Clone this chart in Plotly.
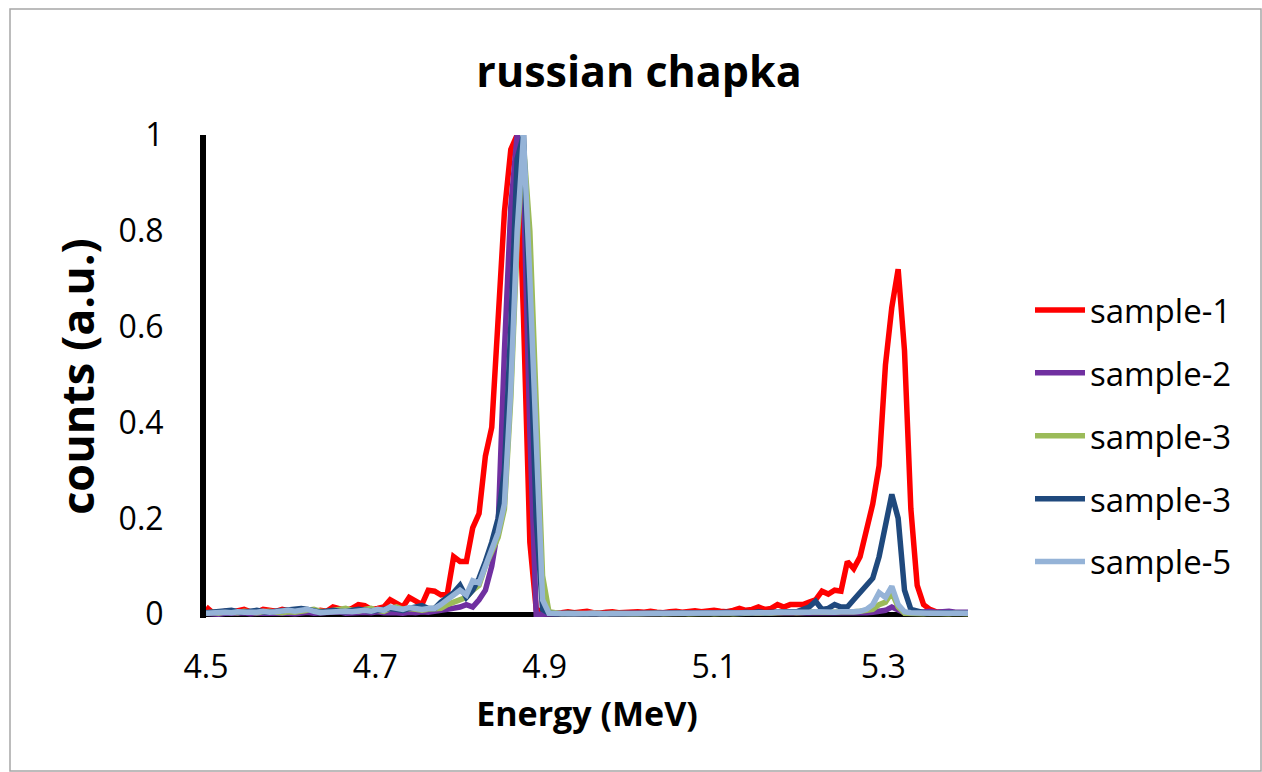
import numpy as np
import plotly.graph_objects as go

# energy channels (MeV), 121 channels from 4.5 to 5.4
energy = np.round(np.linspace(4.5, 5.4, 121), 4)

names = ["sample-1", "sample-2", "sample-3", "sample-3", "sample-5"]
colors = ["#FF0000", "#7030A0", "#9BBB59", "#1F497D", "#95B3D7"]

sample_1 = [0.015,0.004,0.002,0.006,0.004,0.008,0.01,0.005,0.004,0.01,0.007,0.006,0.01,0.006,0.004,0.008,0.006,0.005,0.008,0.006,0.015,0.01,0.008,0.012,0.02,0.018,0.01,0.012,0.015,0.03,0.022,0.015,0.035,0.028,0.02,0.05,
            0.048,0.04,0.042,0.12,0.11,0.11,0.18,0.21,0.33,0.39,0.62,0.84,0.97,1.0,0.62,0.15,0.01,0.005,
            0.004,0.002,0.003,0.005,0.003,0.004,0.006,0.003,0.002,0.004,0.005,0.003,0.004,0.003,0.005,0.004,0.006,0.004,0.003,0.005,0.006,0.004,0.005,0.007,0.005,0.006,0.008,0.006,0.005,0.008,0.012,0.008,0.01,0.015,0.01,0.012,0.02,0.015,0.02,
            0.02,0.02,0.025,0.03,0.048,0.042,0.05,0.048,0.11,0.095,0.12,0.17,0.23,0.31,0.52,0.64,0.72,0.55,0.22,0.06,0.02,0.01,0.005,0.004,0.003,0.003,0.002,0.002]

sample_2 = [0.002,0.001,0.0,0.002,0.001,0.002,0.003,0.001,0.002,0.002,0.003,0.002,0.004,0.002,0.001,0.003,0.004,0.002,0.003,0.002,0.003,0.005,0.002,0.003,0.002,0.004,0.003,0.005,0.003,0.004,0.003,0.002,0.004,0.003,0.005,0.004,
            0.005,0.008,0.01,0.012,0.015,0.02,0.015,0.03,0.05,0.1,0.18,0.55,0.85,1.0,0.9,0.38,0.0,0.0,
            0.001,0.002,0.001,0.002,0.001,0.001,0.002,0.001,0.002,0.001,0.002,0.001,0.001,0.002,0.001,0.002,0.001,0.002,0.001,0.002,0.001,0.002,0.001,0.001,0.002,0.001,0.002,0.001,0.002,0.002,0.001,0.002,0.003,0.002,0.003,0.002,0.003,0.002,0.003,
            0.002,0.003,0.002,0.003,0.002,0.003,0.002,0.003,0.002,0.003,0.002,0.003,0.004,0.005,0.008,0.015,0.01,0.003,0.002,0.003,0.004,0.006,0.004,0.005,0.006,0.004,0.005,0.004]

sample_3a = [0.003,0.004,0.002,0.005,0.004,0.003,0.006,0.004,0.003,0.005,0.006,0.004,0.003,0.005,0.004,0.006,0.008,0.01,0.006,0.005,0.008,0.01,0.012,0.008,0.006,0.01,0.012,0.008,0.006,0.012,0.015,0.01,0.012,0.01,0.008,0.01,
             0.01,0.012,0.02,0.025,0.03,0.035,0.05,0.06,0.1,0.13,0.16,0.22,0.45,0.78,0.98,0.8,0.45,0.08,
             0.005,0.002,0.001,0.002,0.001,0.002,0.001,0.002,0.001,0.001,0.002,0.001,0.002,0.001,0.001,0.002,0.001,0.002,0.001,0.002,0.001,0.002,0.001,0.002,0.001,0.002,0.001,0.002,0.002,0.001,0.002,0.003,0.002,0.003,0.002,0.003,0.004,0.003,0.004,
             0.003,0.004,0.003,0.005,0.004,0.003,0.004,0.005,0.004,0.005,0.006,0.008,0.01,0.02,0.025,0.045,0.015,0.002,0.001,0.002,0.001,0.002,0.001,0.002,0.001,0.002,0.001,0.001]

sample_3b = [0.003,0.004,0.005,0.006,0.008,0.005,0.004,0.006,0.008,0.005,0.004,0.006,0.008,0.01,0.012,0.012,0.01,0.008,0.004,0.006,0.008,0.006,0.005,0.008,0.01,0.008,0.006,0.008,0.01,0.012,0.01,0.008,0.012,0.015,0.018,0.012,
             0.012,0.025,0.035,0.045,0.06,0.035,0.05,0.075,0.11,0.15,0.2,0.3,0.6,0.95,1.0,0.6,0.2,0.01,
             0.002,0.001,0.002,0.001,0.002,0.001,0.001,0.002,0.001,0.002,0.001,0.002,0.001,0.002,0.001,0.001,0.002,0.001,0.002,0.001,0.002,0.001,0.002,0.003,0.002,0.003,0.002,0.003,0.004,0.003,0.002,0.004,0.003,0.005,0.003,0.004,0.005,0.004,0.005,
             0.005,0.01,0.015,0.027,0.01,0.012,0.02,0.015,0.015,0.03,0.045,0.06,0.075,0.12,0.18,0.25,0.2,0.05,0.01,0.005,0.003,0.002,0.003,0.002,0.003,0.002,0.003,0.002]

sample_5 = [0.002,0.003,0.002,0.004,0.003,0.005,0.004,0.003,0.004,0.006,0.004,0.005,0.006,0.008,0.006,0.008,0.01,0.006,0.003,0.004,0.005,0.006,0.006,0.005,0.007,0.008,0.006,0.01,0.008,0.015,0.012,0.01,0.014,0.012,0.01,0.012,
            0.012,0.02,0.03,0.04,0.05,0.04,0.07,0.065,0.1,0.13,0.17,0.23,0.47,0.8,1.0,0.7,0.33,0.03,
            0.002,0.001,0.002,0.001,0.001,0.002,0.001,0.002,0.001,0.001,0.002,0.001,0.002,0.001,0.002,0.001,0.001,0.002,0.001,0.002,0.001,0.002,0.001,0.002,0.002,0.001,0.002,0.001,0.002,0.002,0.003,0.002,0.003,0.002,0.003,0.003,0.004,0.003,0.004,
            0.004,0.003,0.004,0.005,0.004,0.003,0.004,0.005,0.004,0.005,0.006,0.01,0.02,0.045,0.035,0.058,0.02,0.005,0.003,0.002,0.003,0.002,0.002,0.003,0.002,0.002,0.003,0.002]

series = [sample_1, sample_2, sample_3a, sample_3b, sample_5]

x_ticks = [4.5, 4.7, 4.9, 5.1, 5.3]
x_ticktext = ["4.5", "4.7", "4.9", "5.1", "5.3"]
y_ticks = [0, 0.2, 0.4, 0.6, 0.8, 1.0]
y_ticktext = ["0", "0.2", "0.4", "0.6", "0.8", "1"]

FONT = "Open Sans"
W, H = 1262, 772
ML, MR, MT, MB = 206, 294, 135, 154

fig = go.Figure()
for i, (nm, col, ys) in enumerate(zip(names, colors, series)):
    fig.add_trace(go.Scatter(
        x=energy, y=ys, mode="lines", name=nm, legendgroup=f"g{i}",
        line=dict(color=col, width=5.5, shape="linear"),
    ))

pw = W - ML - MR
ph = H - MT - MB
# outer chart border (thin grey frame)
fig.add_shape(type="rect", xref="paper", yref="paper",
              x0=(10 - ML) / pw, x1=(1261 - ML) / pw,
              y0=(H - MB - 771) / ph, y1=(H - MB - 9) / ph,
              line=dict(color="#A6A6A6", width=1.5), fillcolor="rgba(0,0,0,0)", layer="below")

fig.update_layout(
    width=W, height=H,
    margin=dict(l=ML, r=MR, t=MT, b=MB, autoexpand=False),
    paper_bgcolor="white", plot_bgcolor="white",
    font=dict(family=FONT, color="black", size=32),
    title=dict(text="<b>russian chapka</b>", font=dict(family=FONT, size=43, color="black"),
               x=639 / W, xref="container", xanchor="center",
               y=1 - 72 / H, yref="container", yanchor="middle"),
    showlegend=True,
    legend=dict(x=1030 / W, y=1 - 282 / H, xref="container", yref="container",
                xanchor="left", yanchor="top", font=dict(family=FONT, size=33, color="black"),
                tracegroupgap=17, bgcolor="rgba(0,0,0,0)", itemwidth=50),
    xaxis=dict(range=[4.5, 5.4], tickvals=x_ticks, ticktext=x_ticktext,
               showgrid=False, zeroline=False, showline=False, ticks="",
               ticklabelstandoff=27, tickfont=dict(size=32),
               title=dict(text="<b>Energy (MeV)</b>", font=dict(size=34), standoff=16),
               automargin=False),
    yaxis=dict(range=[-0.008, 1.0], tickvals=y_ticks, ticktext=y_ticktext,
               showgrid=False, zeroline=True, zerolinecolor="black", zerolinewidth=5,
               showline=True, linecolor="black", linewidth=6, ticks="",
               ticklabelstandoff=30, tickfont=dict(size=32),
               title=dict(text="<b>counts (a.u.)</b>", font=dict(size=45), standoff=12),
               automargin=False),
)

fig.write_html("out.html")
